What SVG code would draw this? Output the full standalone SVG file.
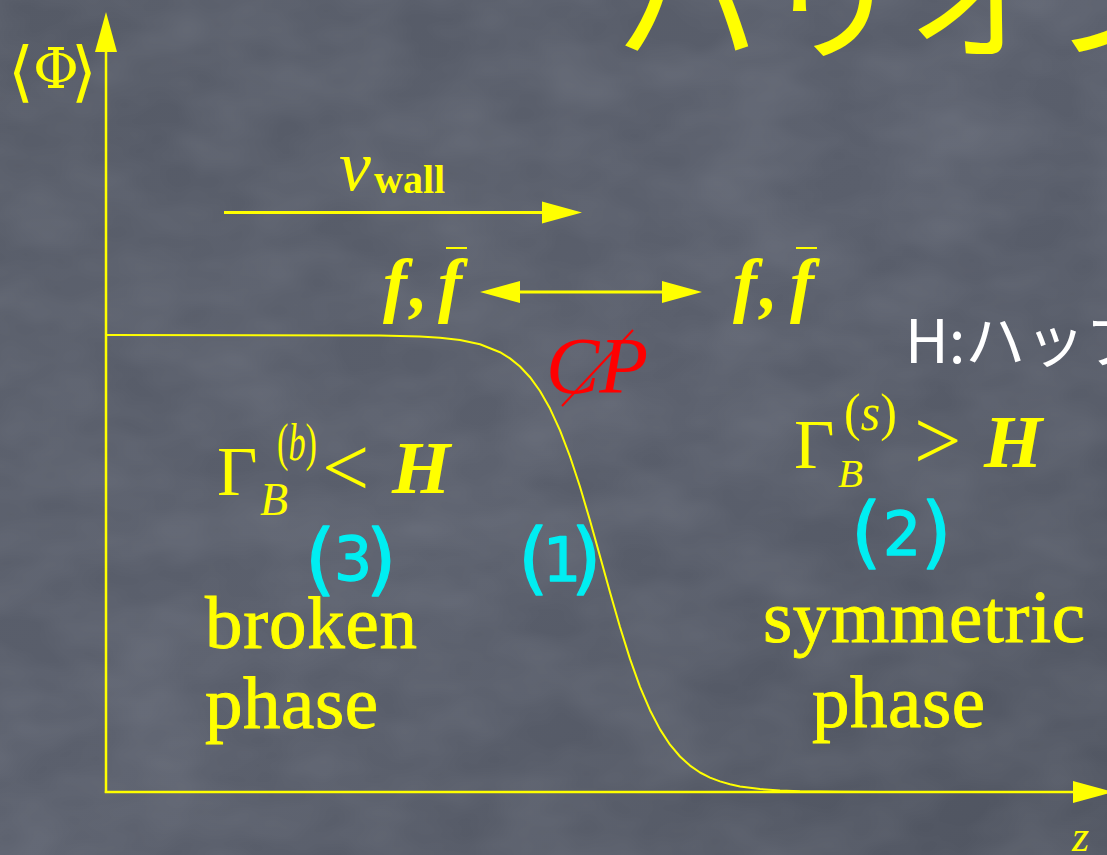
<svg xmlns="http://www.w3.org/2000/svg" width="1107" height="855" viewBox="0 0 1107 855">
<style>
.y{fill:#ffff00}
.ser{font-family:"Liberation Serif","DejaVu Serif",serif}
.it{font-style:italic}
.cy{fill:#00eef2;stroke:#00eef2;stroke-width:1.3;stroke-linejoin:round;font-family:"DejaVu Sans",sans-serif}
.pr{font-size:78px}
.dg{font-size:60px}
.wd{stroke:#ffff00;stroke-width:0.9}
.ln{stroke:#ffff00;fill:none}
</style>
<defs>
<linearGradient id="bg" x1="0" y1="0" x2="1" y2="1">
<stop offset="0" stop-color="#555a66"/>
<stop offset="0.5" stop-color="#5a5f6c"/>
<stop offset="1" stop-color="#4f5460"/>
</linearGradient>
<filter id="chalk" x="0" y="0" width="1" height="1">
<feTurbulence type="fractalNoise" baseFrequency="0.01 0.018" numOctaves="3" seed="4" result="n"/>
<feColorMatrix in="n" type="matrix" values="0 0 0 0 0.75  0 0 0 0 0.78  0 0 0 0 0.85  0 0 0 0.16 -0.04"/>
</filter>
<marker id="ah" viewBox="0 -12 40 24" refX="0" refY="0" markerWidth="40" markerHeight="24" markerUnits="userSpaceOnUse" orient="auto-start-reverse">
<path d="M0,-11 L40,0 L0,11 Z" fill="#ffff00"/>
</marker>
</defs>
<rect width="1107" height="855" fill="url(#bg)"/>
<rect width="1107" height="855" filter="url(#chalk)"/>

<g id="title">
<text x="616" y="50" font-family="'Noto Sans CJK JP',sans-serif" font-size="145" class="y">バリオン</text>
</g>

<g id="hubble-note">
<text x="905" y="363" font-family="'Noto Sans CJK JP',sans-serif" font-size="60" fill="#ffffff">H:ハッブル</text>
</g>

<g id="connectors">
<line class="ln" x1="106" y1="793" x2="106" y2="52" stroke-width="2.5" marker-end="url(#ah)"/>
<line class="ln" x1="104.8" y1="792" x2="1073" y2="792" stroke-width="2.5" marker-end="url(#ah)"/>
<line class="ln" x1="224" y1="212.5" x2="542" y2="212.5" stroke-width="3" marker-end="url(#ah)"/>
<line class="ln" x1="520" y1="292" x2="662" y2="292" stroke-width="3" marker-start="url(#ah)" marker-end="url(#ah)"/>
</g>

<g id="profile-curve">
<polyline class="ln" stroke-width="2" stroke-linejoin="round" points="106,335 380,335.4 420,336.4 440,337.7 460,340 480,344.3 500,352.2 510,358.4 520,366.5 530,377.2 540,391 550,408.6 560,430.4 570,456.5 580,486.8 590,520.5 600,556.2 610,592.3 620,627 630,658.9 640,686.8 650,710.2 660,729.4 670,744.7 680,756.5 690,765.6 700,772.5 710,777.6 720,781.4 730,784.3 740,786.4 760,789 780,790.4 800,791.2 840,791.8 880,792"/>
</g>

<g id="axis-y-label">
<text x="8" y="94" font-family="'DejaVu Serif',serif" font-size="66" class="y">⟨</text>
<text x="33" y="88" font-family="'DejaVu Serif',serif" font-size="56" class="y">Φ</text>
<text x="71" y="94" font-family="'DejaVu Serif',serif" font-size="66" class="y">⟩</text>
</g>
<g id="axis-z-label">
<text x="1072" y="851" class="y ser it" font-size="44">z</text>
</g>

<g id="vwall-label">
<text x="339" y="190" class="y ser it" font-size="72">v</text>
<text x="374" y="193" class="y ser" font-size="40" font-weight="bold">wall</text>
</g>

<g id="ff-left">
<text y="309" class="y ser it" font-size="72" font-weight="bold"><tspan x="383">f</tspan><tspan x="410">,</tspan><tspan x="438">f</tspan></text>
<line x1="446" y1="248" x2="467" y2="248" stroke="#ffff00" stroke-width="2"/>
</g>
<g id="ff-right">
<text y="309" class="y ser it" font-size="72" font-weight="bold"><tspan x="733">f</tspan><tspan x="760">,</tspan><tspan x="790">f</tspan></text>
<line x1="796" y1="248" x2="817" y2="248" stroke="#ffff00" stroke-width="2"/>
</g>

<g id="cp-label">
<text x="546" y="393" class="ser it" font-size="80" fill="#ff0000">CP</text>
<line x1="562" y1="406" x2="633" y2="330" stroke="#ff0000" stroke-width="2"/>
</g>

<g id="rate-broken">
<text x="217" y="495" class="y ser" font-size="70">Γ</text>
<text x="277" y="460" class="y ser" font-size="52" textLength="40" lengthAdjust="spacingAndGlyphs">(<tspan class="it">b</tspan>)</text>
<text x="260" y="515" class="y ser it" font-size="46">B</text>
<text x="322" y="496" class="y ser" font-size="84">&lt;</text>
<text x="392" y="493" class="y ser it" font-size="75" font-weight="bold">H</text>
</g>

<g id="rate-symmetric">
<text x="794" y="468" class="y ser" font-size="70">Γ</text>
<text x="844" y="430" class="y ser" font-size="52" textLength="53" lengthAdjust="spacingAndGlyphs">(<tspan class="it">s</tspan>)</text>
<text x="838" y="487" class="y ser it" font-size="41">B</text>
<text x="914" y="469" class="y ser" font-size="84">&gt;</text>
<text x="984" y="467" class="y ser it" font-size="75" font-weight="bold">H</text>
</g>

<g id="region-3">
<text x="305" y="586" class="cy pr">(</text>
<text x="334" y="580" class="cy dg">3</text>
<text x="366" y="586" class="cy pr">)</text>
</g>
<g id="region-1">
<text x="518" y="585" class="cy pr">(</text>
<text x="543" y="581" class="cy dg">1</text>
<text x="571" y="585" class="cy pr">)</text>
</g>
<g id="region-2">
<text x="851" y="559" class="cy pr">(</text>
<text x="883" y="555" class="cy dg">2</text>
<text x="921" y="559" class="cy pr">)</text>
</g>

<g id="broken-phase">
<text x="205" y="648" class="y ser wd" font-size="75" textLength="212">broken</text>
<text x="205" y="728" class="y ser wd" font-size="75" textLength="173">phase</text>
</g>
<g id="symmetric-phase">
<text x="763" y="642" class="y ser wd" font-size="75" textLength="322">symmetric</text>
<text x="812" y="727" class="y ser wd" font-size="75" textLength="173">phase</text>
</g>
</svg>
